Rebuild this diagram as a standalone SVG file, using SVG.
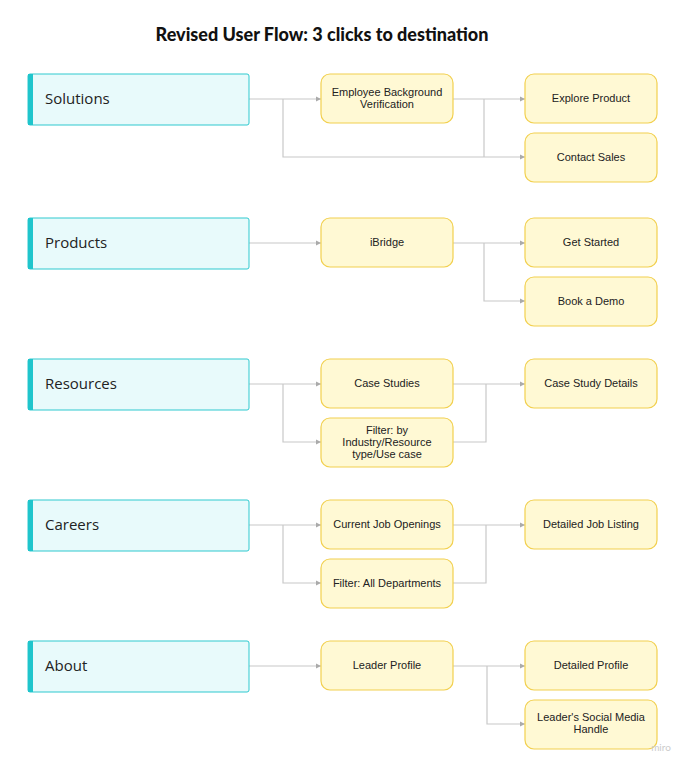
<svg xmlns="http://www.w3.org/2000/svg" width="689" height="768" viewBox="0 0 689 768">
<defs>
<marker id="a" markerWidth="6" markerHeight="6" refX="5" refY="3" orient="auto" markerUnits="userSpaceOnUse"><path d="M0,0.5 L5,3 L0,5.5 z" fill="#aaa"/></marker>
<style>
.l{fill:#e8fafb;stroke:#2ec9cf;stroke-width:1}
.bar{fill:#1fc5cc}
.y{fill:#fff9d4;stroke:#f2d04f;stroke-width:1.2}
.lt{font-family:"Open Sans",sans-serif;font-size:15px;fill:#222}
.yt{font-family:"Liberation Sans",Arial,sans-serif;font-size:11px;fill:#222;text-anchor:middle}
.c{fill:none;stroke:#c8c8c8;stroke-width:1.2}
</style>
</defs>
<rect width="689" height="768" fill="#fff"/>
<text x="322" y="41" text-anchor="middle" font-family="Lato,sans-serif" font-weight="900" font-size="18" fill="#111">Revised User Flow: 3 clicks to destination</text>
<g id="connectors">
<path class="c" d="M249,99H321" marker-end="url(#a)"/>
<path class="c" d="M283,99V157H525" marker-end="url(#a)"/>
<path class="c" d="M453,99H525" marker-end="url(#a)"/>
<path class="c" d="M484,99V157"/>
<path class="c" d="M249,243H321" marker-end="url(#a)"/>
<path class="c" d="M453,243H525" marker-end="url(#a)"/>
<path class="c" d="M484,243V301H525" marker-end="url(#a)"/>
<path class="c" d="M249,384H321" marker-end="url(#a)"/>
<path class="c" d="M283,384V442H321" marker-end="url(#a)"/>
<path class="c" d="M453,384H525" marker-end="url(#a)"/>
<path class="c" d="M453,442H486V384"/>
<path class="c" d="M249,525H321" marker-end="url(#a)"/>
<path class="c" d="M283,525V583H321" marker-end="url(#a)"/>
<path class="c" d="M453,525H525" marker-end="url(#a)"/>
<path class="c" d="M453,583H486V525"/>
<path class="c" d="M249,666H321" marker-end="url(#a)"/>
<path class="c" d="M453,666H525" marker-end="url(#a)"/>
<path class="c" d="M487,666V724H525" marker-end="url(#a)"/>
</g>
<g id="solutions"><rect class="l" x="28" y="74" width="221" height="51" rx="2"/><rect class="bar" x="28" y="74" width="5" height="51"/><text class="lt" x="45" y="104">Solutions</text></g>
<g id="products"><rect class="l" x="28" y="218" width="221" height="51" rx="2"/><rect class="bar" x="28" y="218" width="5" height="51"/><text class="lt" x="45" y="248">Products</text></g>
<g id="resources"><rect class="l" x="28" y="359" width="221" height="51" rx="2"/><rect class="bar" x="28" y="359" width="5" height="51"/><text class="lt" x="45" y="389">Resources</text></g>
<g id="careers"><rect class="l" x="28" y="500" width="221" height="51" rx="2"/><rect class="bar" x="28" y="500" width="5" height="51"/><text class="lt" x="45" y="530">Careers</text></g>
<g id="about"><rect class="l" x="28" y="641" width="221" height="51" rx="2"/><rect class="bar" x="28" y="641" width="5" height="51"/><text class="lt" x="45" y="671">About</text></g>
<g id="ebv"><rect class="y" x="321" y="74" width="132" height="49" rx="9"/><text class="yt" x="387" y="96">Employee Background</text><text class="yt" x="387" y="108">Verification</text></g>
<g id="explore"><rect class="y" x="525" y="74" width="132" height="49" rx="9"/><text class="yt" x="591" y="102">Explore Product</text></g>
<g id="contact"><rect class="y" x="525" y="133" width="132" height="49" rx="9"/><text class="yt" x="591" y="161">Contact Sales</text></g>
<g id="ibridge"><rect class="y" x="321" y="218" width="132" height="49" rx="9"/><text class="yt" x="387" y="246">iBridge</text></g>
<g id="getstarted"><rect class="y" x="525" y="218" width="132" height="49" rx="9"/><text class="yt" x="591" y="246">Get Started</text></g>
<g id="demo"><rect class="y" x="525" y="277" width="132" height="49" rx="9"/><text class="yt" x="591" y="305">Book a Demo</text></g>
<g id="casestudies"><rect class="y" x="321" y="359" width="132" height="49" rx="9"/><text class="yt" x="387" y="387">Case Studies</text></g>
<g id="filter1"><rect class="y" x="321" y="418" width="132" height="49" rx="9"/><text class="yt" x="387" y="434">Filter: by</text><text class="yt" x="387" y="446">Industry/Resource</text><text class="yt" x="387" y="458">type/Use case</text></g>
<g id="csdetails"><rect class="y" x="525" y="359" width="132" height="49" rx="9"/><text class="yt" x="591" y="387">Case Study Details</text></g>
<g id="jobs"><rect class="y" x="321" y="500" width="132" height="49" rx="9"/><text class="yt" x="387" y="528">Current Job Openings</text></g>
<g id="filter2"><rect class="y" x="321" y="559" width="132" height="49" rx="9"/><text class="yt" x="387" y="587">Filter: All Departments</text></g>
<g id="joblisting"><rect class="y" x="525" y="500" width="132" height="49" rx="9"/><text class="yt" x="591" y="528">Detailed Job Listing</text></g>
<g id="leader"><rect class="y" x="321" y="641" width="132" height="49" rx="9"/><text class="yt" x="387" y="669">Leader Profile</text></g>
<g id="profile"><rect class="y" x="525" y="641" width="132" height="49" rx="9"/><text class="yt" x="591" y="669">Detailed Profile</text></g>
<g id="social"><rect class="y" x="525" y="700" width="132" height="49" rx="9"/><text class="yt" x="591" y="721">Leader's Social Media</text><text class="yt" x="591" y="733">Handle</text></g>
<text x="661" y="751" text-anchor="middle" font-family="Lato,sans-serif" font-size="10" fill="#ccc">miro</text>
</svg>
